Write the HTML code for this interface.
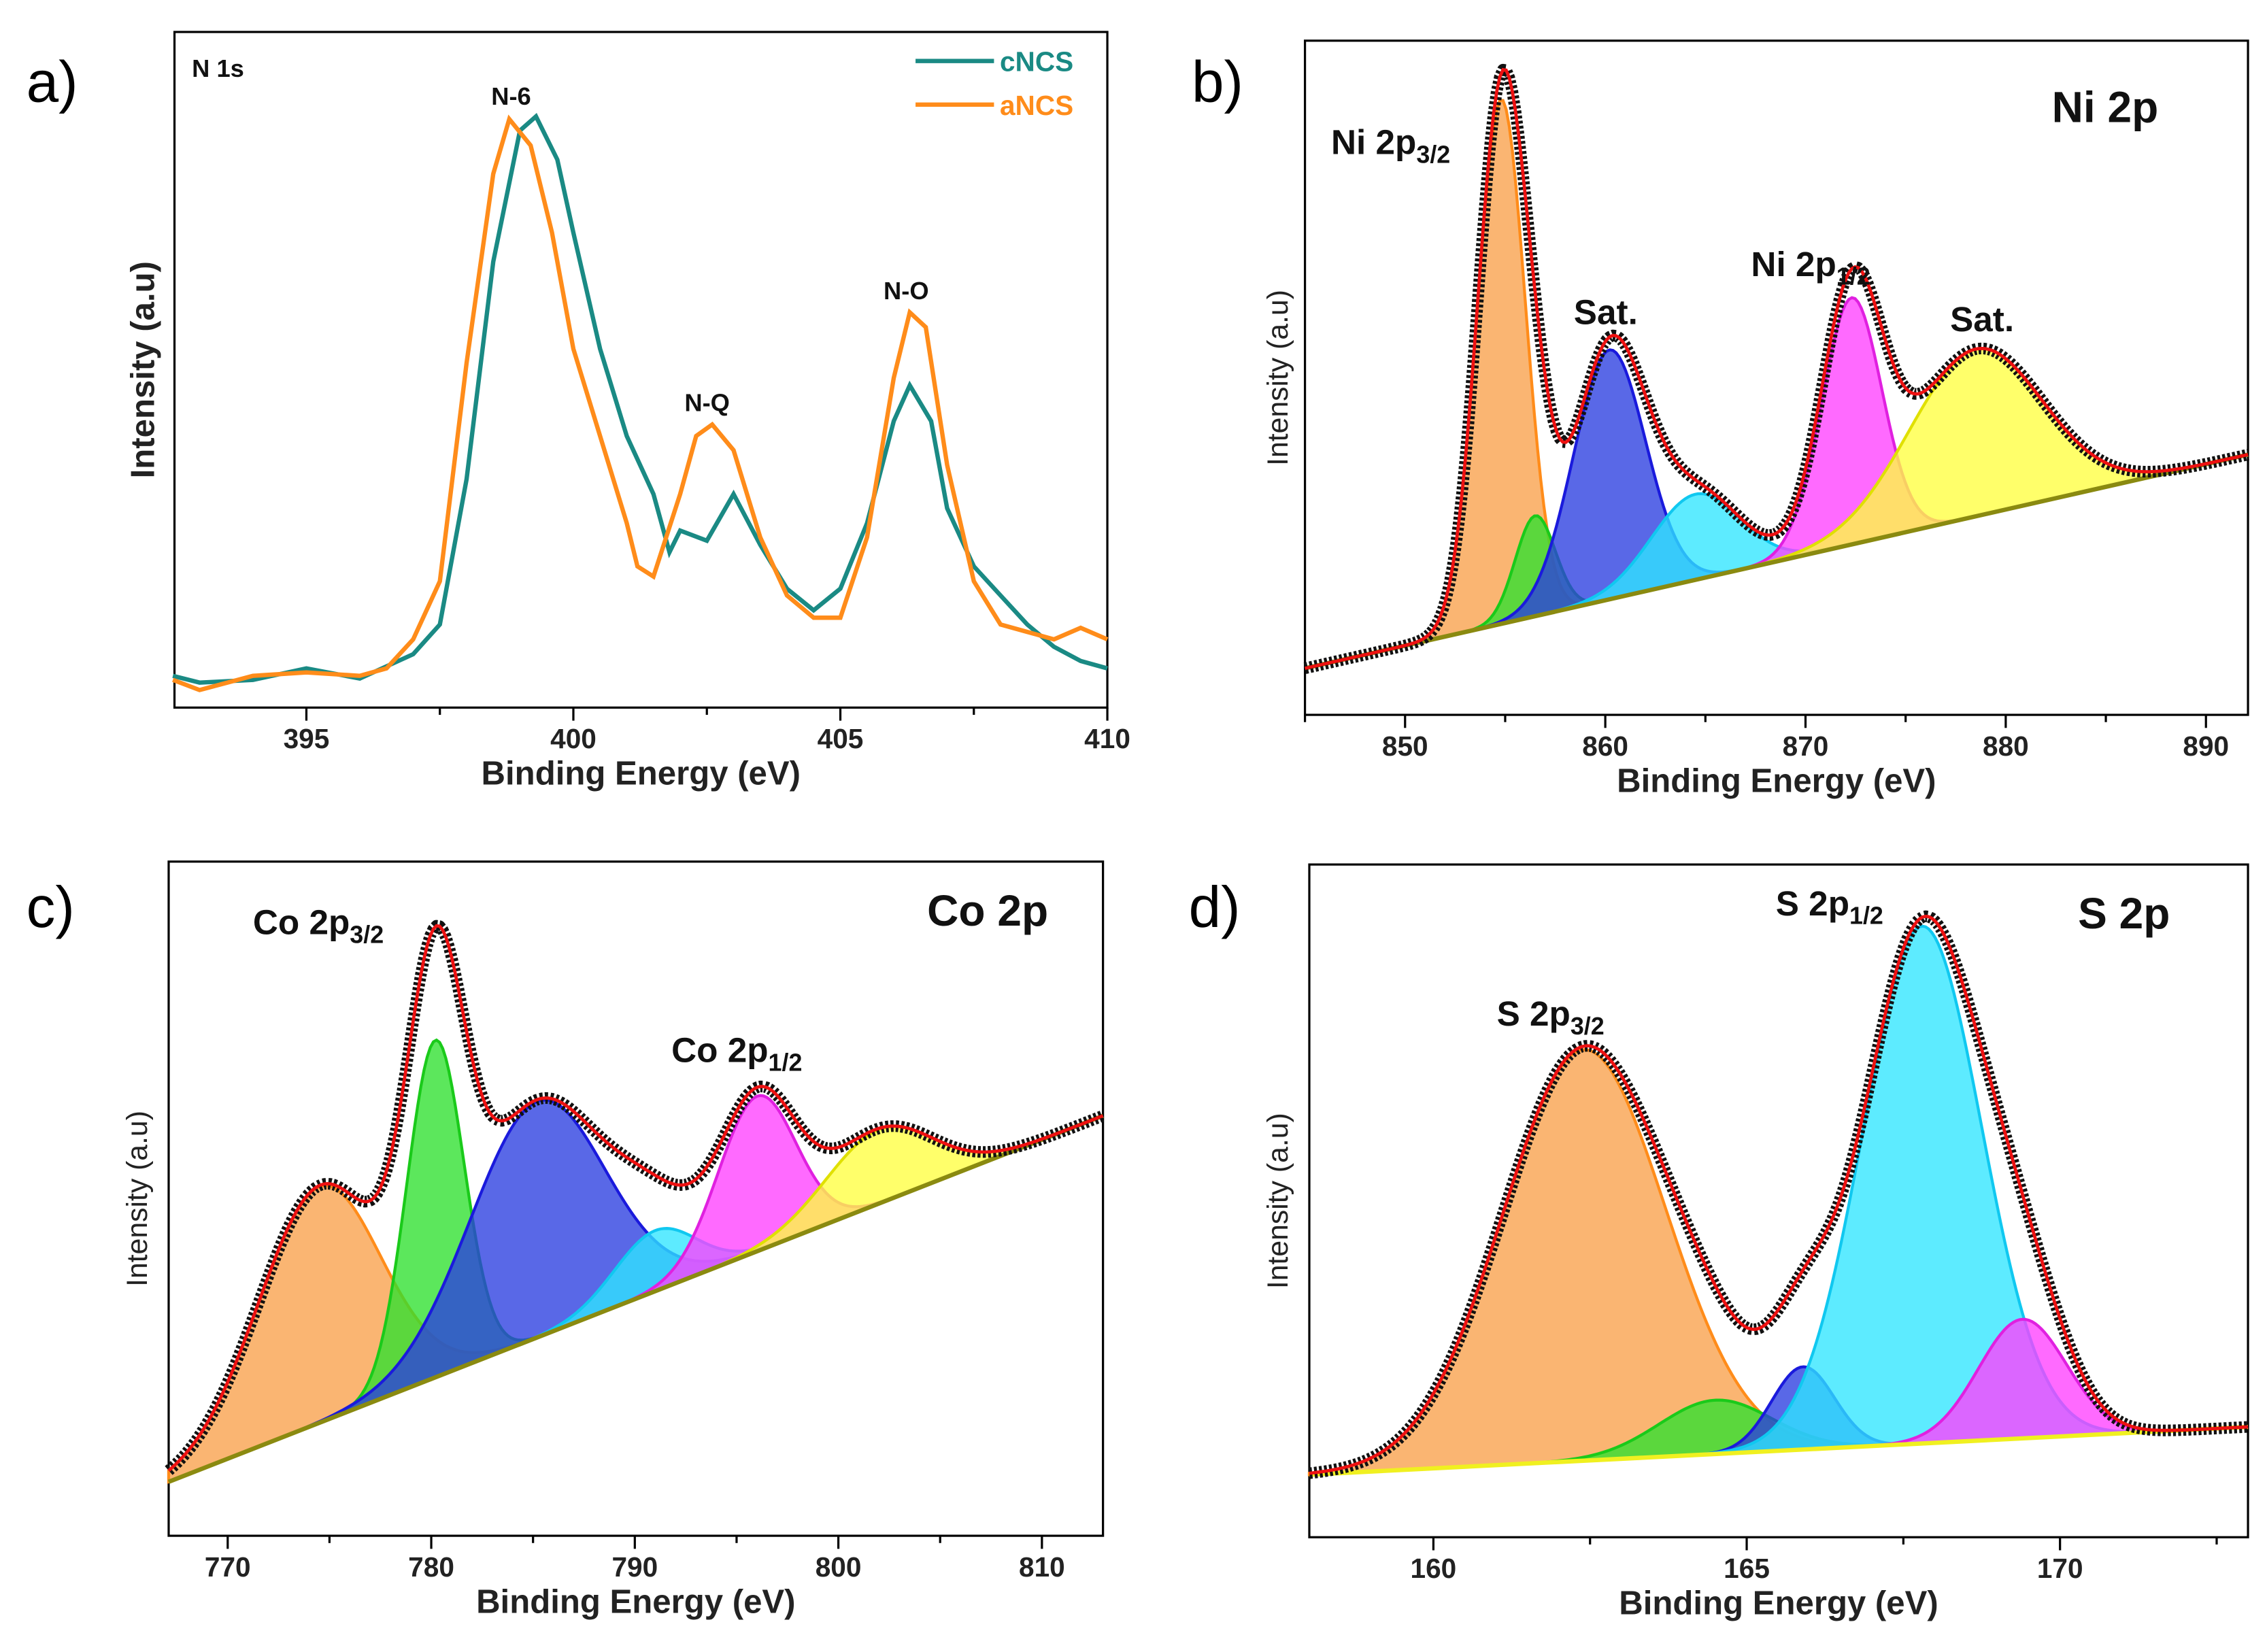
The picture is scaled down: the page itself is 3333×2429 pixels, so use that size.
<!DOCTYPE html>
<html><head><meta charset="utf-8"><style>
html,body{margin:0;padding:0;background:#fff}
svg{display:block;font-family:"Liberation Sans",sans-serif}
</style></head><body>
<svg id="fig" width="3333" height="2429" viewBox="0 0 1560 1137" xmlns="http://www.w3.org/2000/svg"></svg>
<script>
// ---- Panel a data (N 1s) ----
const aEnergyA=[392.5,393,394,395,396,396.5,397,397.5,398,398.5,398.8,399.2,399.6,400,400.5,401,401.2,401.5,402,402.3,402.6,403,403.5,404,404.5,405,405.5,406,406.3,406.6,407,407.5,408,408.5,409,409.5,410];
const aNCS=[4.1,2.6,4.7,5.2,4.7,5.8,10.1,18.7,51,79,87.1,83.2,70.3,53.1,40.2,27.3,20.9,19.4,31.6,40.2,41.9,38.1,25.2,16.6,13.3,13.3,25.2,48.8,58.5,56.3,35.9,18.7,12.3,11.2,10.1,11.8,10.1];
const aEnergyC=[392.5,393,394,395,396,397,397.5,398,398.5,399,399.3,399.7,400,400.5,401,401.5,401.8,402,402.5,403,403.5,404,404.5,405,405.5,406,406.3,406.7,407,407.5,408,408.5,409,409.5,410];
const cNCS=[4.7,3.7,4.1,5.8,4.3,7.9,12.3,33.8,66,85.4,87.5,81.1,70.3,53.1,40.2,31.6,23,26.2,24.7,31.6,24.1,17.6,14.4,17.6,27.3,42.4,47.7,42.4,29.5,20.9,16.6,12.3,9,6.9,5.8];
const aTicks=[395,400,405,410];
// ---- Panel b (Ni 2p): components [center, height, sigma] ----
const bCenters=[854.8,856.5,860.2,864.5,872.3,878.5];
const bHeights=[77.8,14.9,37,12.7,36.6,24.8];
const bSigmas=[1.2,1.0,1.8,2.2,1.5,3.3];
const bBase=[6.9,38.6];
const bTicks=[850,860,870,880,890];
// ---- Panel c (Co 2p) ----
const cCenters=[774.5,780.2,785.2,791,796,802];
const cHeights=[35,50,35,9,23,11];
const cSigmas=[3.0,1.4,3.3,2.0,1.9,2.6];
const cBase=[8,62.3];
const cTicks=[770,780,790,800,810];
// ---- Panel d (S 2p) ----
const dCenters=[162.4,164.5,165.9,167.8,169.4];
const dHeights=[61.1,8,12.3,76.9,17.7];
const dSigmas=[1.3,0.9,0.5,0.95,0.7];
const dBase=[9.3,16.4];
const dTicks=[160,165,170];

const NS="http://www.w3.org/2000/svg";
const svg=document.getElementById('fig');
function mk(tag,attrs,parent,text){const e=document.createElementNS(NS,tag);for(const k in attrs)e.setAttribute(k,attrs[k]);if(text!==undefined)e.textContent=text;(parent||svg).appendChild(e);return e;}

function panel(P){
  const g=mk('g',{},svg);
  
  
  const sx=v=>P.x0+(v-P.emin)/(P.emax-P.emin)*(P.x1-P.x0);
  const sy=v=>P.y1-v/100*(P.y1-P.y0);
  P.sx=sx;P.sy=sy;P.g=g;
  const lt=mk('text',{x:P.lx,y:P.ly,'font-size':40},g,P.letter);
  
  const fr=mk('rect',{x:P.x0,y:P.y0,width:P.x1-P.x0,height:P.y1-P.y0,fill:'none',stroke:'#000','stroke-width':1.5},g);
  
  const step=P.ticks[1]-P.ticks[0];
  for(let v=P.ticks[0]-step;v<=P.emax;v+=step/2){
    if(v<P.emin)continue;
    const major=P.ticks.includes(Math.round(v*100)/100);
    const t=mk('line',{x1:sx(v),x2:sx(v),y1:P.y1,y2:P.y1+(major?9:5),stroke:'#000','stroke-width':1.5},g);
    
  }
  P.ticks.forEach(v=>{
    const t=mk('text',{x:sx(v),y:P.y1+28,'font-size':19,'text-anchor':'middle','font-weight':'bold','fill':'#222'},g,String(v));
    
  });
  const xt=mk('text',{x:(P.x0+P.x1)/2,y:P.y1+53,'font-size':23,'text-anchor':'middle','font-weight':'bold',fill:'#222'},g,'Binding Energy (eV)');
  
  const yc=(P.y0+P.y1)/2;
  const yt=mk('text',{x:P.yx,y:yc,'font-size':P.ybold?23:20,'text-anchor':'middle','font-weight':P.ybold?'bold':'normal',fill:'#222',transform:`rotate(-90 ${P.yx} ${yc})`},g,'Intensity (a.u)');
  
  return P;
}
function poly(P,xs,ys,attrs,name){
  const d=xs.map((x,i)=>(i?'L':'M')+P.sx(x).toFixed(2)+','+P.sy(ys[i]).toFixed(2)).join('');
  const p=mk('path',Object.assign({d:d},attrs),P.g);
  
  return p;
}
function fitPanel(P,centers,heights,sigmas,base,colors,strokes,baseColor){
  const N=300,xs=[];for(let i=0;i<=N;i++)xs.push(P.emin+(P.emax-P.emin)*i/N);
  const bl=x=>base[0]+(base[1]-base[0])*(x-P.emin)/(P.emax-P.emin);
  const comp=(k,x)=>heights[k]*Math.exp(-Math.pow(x-centers[k],2)/(2*sigmas[k]*sigmas[k]));
  centers.forEach((c,k)=>{
    const cx=xs.filter(x=>Math.abs(x-c)<4*sigmas[k]);
    const top=cx.map(x=>bl(x)+comp(k,x));
    const d='M'+cx.map((x,i)=>P.sx(x).toFixed(2)+','+P.sy(top[i]).toFixed(2)).join('L')+'L'+cx.slice().reverse().map(x=>P.sx(x).toFixed(2)+','+P.sy(bl(x)).toFixed(2)).join('L')+'Z';
    const p=mk('path',{d:d,fill:colors[k],'fill-opacity':0.78,stroke:strokes[k],'stroke-width':2},P.g);
    
  });
  poly(P,[P.emin,P.emax],[bl(P.emin),bl(P.emax)],{stroke:baseColor,'stroke-width':3,fill:'none'},'background-line');
  const env=xs.map(x=>{let s=bl(x);centers.forEach((c,k)=>s+=comp(k,x));return s;});
  poly(P,xs,env,{stroke:'#111','stroke-width':8,fill:'none','stroke-dasharray':'2 1.5','stroke-linejoin':'round'},'raw-data');
  poly(P,xs,env,{stroke:'#ee1111','stroke-width':2.2,fill:'none'},'fit-envelope');
}
function label(P,x,y,main,sub,size,name){
  const t=mk('text',{x:x,y:y,'font-size':size,'font-weight':'bold',fill:'#111'},P.g);
  
  mk('tspan',{},t,main);
  if(sub)mk('tspan',{'font-size':size*0.7,dy:size*0.25},t,sub);
}
const cols=['#f9a04a','#2ee02e','#2a3de0','#30e6ff','#ff40ff','#ffff40'];
const strk=['#ff8c1a','#1aca1a','#1a1adc','#10c8f0','#e020e0','#e0e000'];

// Panel a
const A=panel({name:'panel-a-n1s',letter:'a)',lx:18,ly:70,x0:120,x1:762,y0:22,y1:487,emin:392.53,emax:410,ticks:aTicks,yx:106,ybold:true});
poly(A,aEnergyC,cNCS,{stroke:'#1a8a84','stroke-width':3,fill:'none'},'cncs-line');
poly(A,aEnergyA,aNCS,{stroke:'#ff8c1a','stroke-width':3,fill:'none'},'ancs-line');
label(A,132,53,'N 1s','',17,'core-level-label');
label(A,338,72,'N-6','',17,'peak-label-n6');
label(A,471,283,'N-Q','',17,'peak-label-nq');
label(A,608,206,'N-O','',17,'peak-label-no');
[['cNCS','#1a8a84',42],['aNCS','#ff8c1a',72]].forEach(([n,c,y])=>{
  const l=mk('line',{x1:630,x2:684,y1:y,y2:y,stroke:c,'stroke-width':3},A.g);
  
  const t=mk('text',{x:688,y:y+7,'font-size':19,'font-weight':'bold',fill:c},A.g,n);
  
});

// Panel b
const B=panel({name:'panel-b-ni2p',letter:'b)',lx:820,ly:70,x0:898,x1:1547,y0:28,y1:492,emin:845,emax:892.1,ticks:bTicks,yx:886});
fitPanel(B,bCenters,bHeights,bSigmas,bBase,cols,strk,'#8a8a10');
label(B,1412,84,'Ni 2p','',30,'core-level-label');
label(B,916,106,'Ni 2p','3/2',24,'peak-label-ni2p32');
label(B,1083,223,'Sat.','',24,'peak-label-sat1');
label(B,1205,190,'Ni 2p','1/2',24,'peak-label-ni2p12');
label(B,1342,228,'Sat.','',24,'peak-label-sat2');

// Panel c
const C=panel({name:'panel-c-co2p',letter:'c)',lx:18,ly:638,x0:116,x1:759,y0:593,y1:1057,emin:767.1,emax:813,ticks:cTicks,yx:101});
fitPanel(C,cCenters,cHeights,cSigmas,cBase,cols,strk,'#8a8a10');
label(C,638,637,'Co 2p','',30,'core-level-label');
label(C,174,643,'Co 2p','3/2',24,'peak-label-co2p32');
label(C,462,731,'Co 2p','1/2',24,'peak-label-co2p12');

// Panel d
const D=panel({name:'panel-d-s2p',letter:'d)',lx:818,ly:638,x0:901,x1:1547,y0:595,y1:1058,emin:158.02,emax:173,ticks:dTicks,yx:886});
fitPanel(D,dCenters,dHeights,dSigmas,dBase,cols.slice(0,5),strk.slice(0,5),'#f0f020');
label(D,1430,639,'S 2p','',30,'core-level-label');
label(D,1030,706,'S 2p','3/2',24,'peak-label-s2p32');
label(D,1222,630,'S 2p','1/2',24,'peak-label-s2p12');
</script>
</body></html>
